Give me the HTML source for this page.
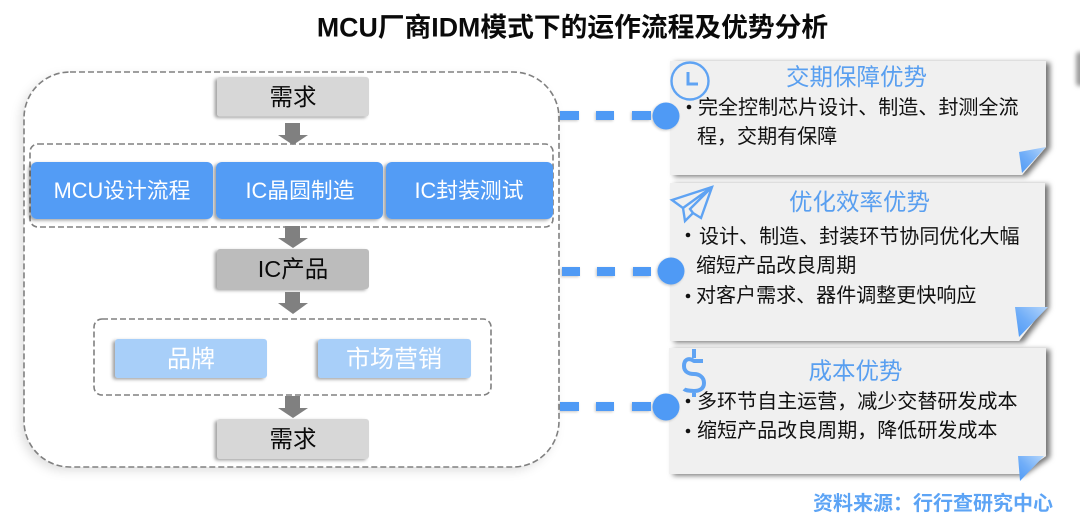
<!DOCTYPE html>
<html lang="zh">
<head>
<meta charset="utf-8">
<style>
html,body{margin:0;padding:0;background:#fff;width:1080px;height:523px;overflow:hidden}
svg{display:block;filter:blur(.35px)}
text{font-family:"Liberation Sans","Noto Sans CJK SC",sans-serif}
.b{font-size:20.05px;fill:#111}
.t{font-size:23.5px;fill:#599ff0;text-anchor:middle}
.w{font-size:21.8px;fill:#fff;text-anchor:middle}
.w2{font-size:24px;fill:#fff;text-anchor:middle}
.k{font-size:23.5px;fill:#0a0a0a;text-anchor:middle}
.dash{fill:none;stroke:#808080;stroke-width:1.6;stroke-dasharray:6 3}
.conn{fill:#4f9af5}
</style>
</head>
<body>
<svg width="1080" height="523" viewBox="0 0 1080 523" xmlns="http://www.w3.org/2000/svg">
<defs>
<filter id="soft" x="-10%" y="-10%" width="120%" height="120%"><feDropShadow dx="-4" dy="4" stdDeviation="5" flood-color="#000" flood-opacity=".12"/></filter>
<filter id="box" x="-15%" y="-20%" width="130%" height="140%"><feDropShadow dx="-2.500" dy="1.500" stdDeviation="1.500" flood-color="#000" flood-opacity=".36"/></filter>
<filter id="card" x="-8%" y="-10%" width="116%" height="125%"><feDropShadow dx="4" dy="1.500" stdDeviation="2.600" flood-color="#000" flood-opacity=".55"/></filter>
<filter id="bl" x="-50%" y="-50%" width="200%" height="200%"><feGaussianBlur stdDeviation="2"/></filter>
<filter id="cs" x="-10%" y="-30%" width="120%" height="160%"><feDropShadow dx="-1" dy="1" stdDeviation="1.200" flood-color="#000" flood-opacity=".22"/></filter>
<linearGradient id="fold" x1="1" y1="0" x2="0" y2="1"><stop offset="0" stop-color="#b5d6fb"/><stop offset=".55" stop-color="#71aef8"/><stop offset="1" stop-color="#4f9af5"/></linearGradient>
</defs>

<text x="572.500" y="36.500" font-size="26.750" font-weight="700" fill="#0a0a0a" text-anchor="middle">MCU厂商IDM模式下的运作流程及优势分析</text>

<rect x="1076" y="52" width="12" height="34" rx="3" fill="#9c9c9c" filter="url(#bl)"/>

<!-- Left container -->
<rect x="24" y="72" width="535" height="395" rx="46" fill="#fff" filter="url(#soft)"/>
<rect x="24" y="72" width="535" height="395" rx="46" class="dash"/>

<rect x="217" y="77" width="152" height="39.500" rx="3" fill="#d7d7d7" filter="url(#box)"/>
<text x="293" y="105" class="k">需求</text>

<path d="M285 123h15v12h8l-15 10-15-10h7z" fill="#808080"/>

<rect x="30" y="144" width="523" height="83" rx="8" class="dash"/>
<g filter="url(#box)">
<rect x="31" y="162" width="182" height="57" rx="6" fill="#539cf5"/>
<rect x="216" y="162" width="167" height="57" rx="6" fill="#539cf5"/>
<rect x="386" y="162" width="167" height="57" rx="6" fill="#539cf5"/>
</g>
<text x="122" y="198" class="w">MCU设计流程</text>
<text x="300" y="198" class="w">IC晶圆制造</text>
<text x="469" y="198" class="w">IC封装测试</text>

<path d="M285 226h15v12h8l-15 10-15-10h7z" fill="#808080"/>

<rect x="217" y="249" width="152" height="40" rx="3" fill="#bcbcbc" filter="url(#box)"/>
<text x="293" y="277" class="k">IC产品</text>

<path d="M285 292h15v11h8l-15 11-15-11h7z" fill="#808080"/>

<rect x="94" y="319" width="397" height="76" rx="8" class="dash"/>
<g filter="url(#box)">
<rect x="115" y="339" width="152" height="39" rx="3" fill="#a8cff9"/>
<rect x="318" y="339" width="153" height="39" rx="3" fill="#a8cff9"/>
</g>
<text x="191" y="367" class="w2">品牌</text>
<text x="394" y="367" class="w2">市场营销</text>

<path d="M285 396h15v12h8l-15 10-15-10h7z" fill="#808080"/>

<rect x="217" y="419" width="152" height="40" rx="3" fill="#d7d7d7" filter="url(#box)"/>
<text x="293" y="447" class="k">需求</text>

<!-- Cards -->
<path d="M670 61H1046V147L1022 175H670Z" fill="#f0f0f0" filter="url(#card)"/>
<path d="M670 183H1045V307L1019 341H670Z" fill="#f0f0f0" filter="url(#card)"/>
<path d="M669 348H1046V456L1020 474H669Z" fill="#f0f0f0" filter="url(#card)"/>

<path d="M1046 147L1019 152L1022 173Z" fill="url(#fold)"/>
<path d="M1048 307L1015 307L1019 337Z" fill="url(#fold)"/>
<path d="M1044 456L1018 456L1020 481Z" fill="url(#fold)"/>

<!-- Connectors -->
<g class="conn" filter="url(#cs)">
<rect x="560" y="111" width="19" height="9"/><rect x="596" y="111" width="18" height="9"/><rect x="632" y="111" width="19" height="9"/>
<circle cx="666" cy="116" r="13.500"/>
<rect x="562" y="267" width="18" height="9"/><rect x="597" y="267" width="18" height="9"/><rect x="633" y="267" width="18" height="9"/>
<circle cx="671" cy="271" r="13.500"/>
<rect x="560" y="402" width="19" height="9"/><rect x="596" y="402" width="18" height="9"/><rect x="632" y="402" width="19" height="9"/>
<circle cx="666" cy="407" r="13.500"/>
</g>

<!-- Icons -->
<g fill="none" stroke="#5fa3f3" stroke-width="2.400">
<circle cx="690" cy="81" r="18.500"/>
<path d="M688 72V84H698" stroke-width="3"/>
<path d="M712 187L672 200L683 208L685 221L693 213L701 218Z"/>
<path d="M712 187L683 208M712 187L690 209L693 213"/>
<path d="M703 361H694C688 357 684 360 684 366C684 372 689 374 694 374C699 374 704 377 704 383C704 389 699 391 694 391C689 391 685 390 684 389M694 349V358M694 389V397" stroke-width="4" stroke-linejoin="round"/>
</g>

<!-- Card 1 -->
<text x="856.500" y="85" class="t">交期保障优势</text>
<circle cx="689" cy="107" r="2.300" fill="#111"/>
<text x="698" y="114" class="b">完全控制芯片设计、制造、封测全流</text>
<text x="697" y="143" class="b">程，交期有保障</text>

<!-- Card 2 -->
<text x="859.500" y="210" class="t">优化效率优势</text>
<circle cx="688" cy="235" r="2.300" fill="#111"/>
<text x="699" y="243" class="b">设计、制造、封装环节协同优化大幅</text>
<text x="696" y="272" class="b">缩短产品改良周期</text>
<circle cx="688" cy="296" r="2.300" fill="#111"/>
<text x="696" y="302" class="b">对客户需求、器件调整更快响应</text>

<!-- Card 3 -->
<text x="855.500" y="379" class="t">成本优势</text>
<circle cx="688" cy="401" r="2.300" fill="#111"/>
<text x="697" y="408" class="b">多环节自主运营，减少交替研发成本</text>
<circle cx="688" cy="431" r="2.300" fill="#111"/>
<text x="697" y="437" class="b">缩短产品改良周期，降低研发成本</text>

<text x="813" y="510" font-size="20" font-weight="700" fill="#5da4f5">资料来源：行行查研究中心</text>
</svg>
</body>
</html>
